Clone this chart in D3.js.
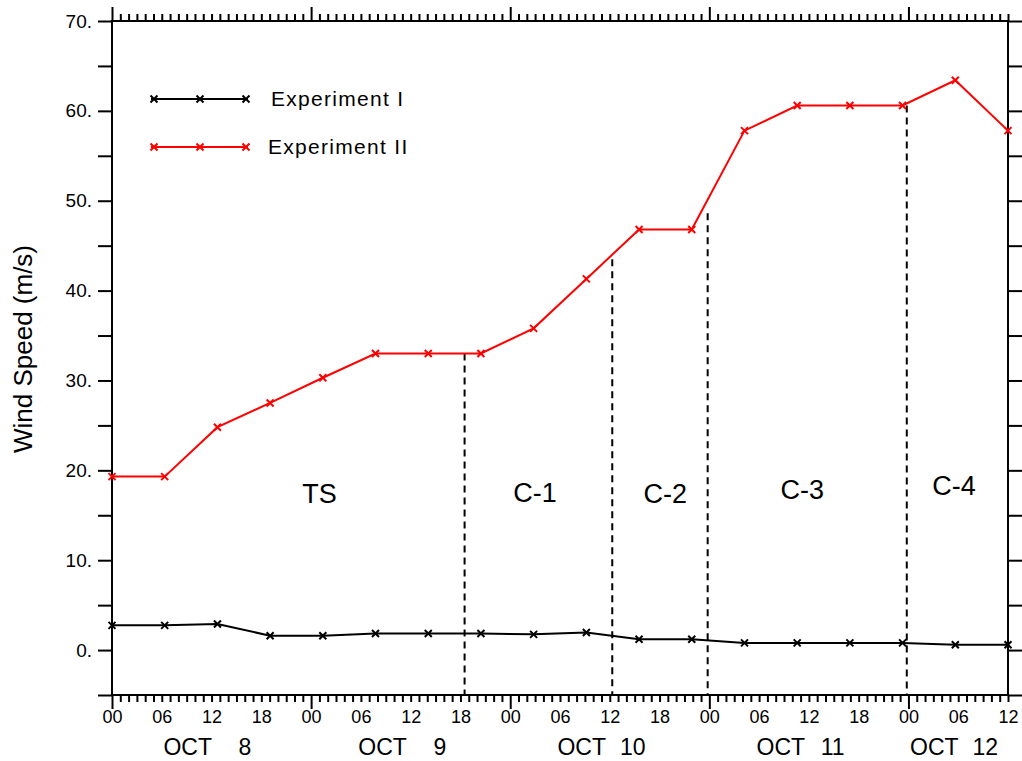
<!DOCTYPE html>
<html>
<head>
<meta charset="utf-8">
<script src="https://cdn.jsdelivr.net/npm/d3@7"></script>
<style>
  body { margin: 0; background: #fff; }
  svg { display: block; }
  text { font-family: "Liberation Sans", Arial, Helvetica, sans-serif; fill: #000; }
</style>
</head>
<body>
<svg width="1022" height="761"></svg>
<script>
// hours since OCT 8 00
var hours = [0, 6.35, 12.71, 19.06, 25.41, 31.76, 38.12, 44.47, 50.82, 57.18, 63.53, 69.88, 76.24, 82.59, 88.94, 95.29, 101.65, 108];
var exp1 = [2.75, 2.75, 2.9, 1.6, 1.6, 1.85, 1.85, 1.85, 1.75, 1.95, 1.2, 1.2, 0.8, 0.8, 0.8, 0.8, 0.6, 0.6];
var exp2 = [19.3, 19.3, 24.8, 27.5, 30.3, 33.0, 33.0, 33.0, 35.8, 41.3, 46.8, 46.8, 57.8, 60.6, 60.6, 60.6, 63.4, 57.8];
var seriesNames = ["Experiment I", "Experiment II"];
var seriesColors = ["#000000", "#ff0000"];

// stage boundaries (dashed) and stage labels
var boundHours = [42.5, 60.3, 71.8, 95.8];
var boundTop = [33.0, 43.5, 48.6, 60.6];
var stageNames = ["TS", "C-1", "C-2", "C-3", "C-4"];
var stageHours = [25.0, 51.0, 66.7, 83.2, 101.5];
var stageVals = [16.4, 16.5, 16.4, 16.8, 17.2];

// date labels
var dayNums = ["8", "9", "10", "11", "12"];
var dayHours = [11.5, 35.0, 59.0, 83.0, 101.5];

var svg = d3.select("svg");
var pLeft = 112, pRight = 1008, pTop = 21, pBottom = 695;

var x = d3.scaleLinear().domain([0, 108]).range([pLeft, pRight]);
var y = d3.scaleLinear().domain([-5, 70]).range([pBottom, pTop]);

var hourTicks = d3.range(0, 109);
var minorHours = hourTicks.filter(function(h){ return h % 24 != 0; });
var dayTicks = hourTicks.filter(function(h){ return h % 24 == 0; });
var yTicks = d3.range(-5, 71, 5);

function styleAxis(g){
  g.select(".domain").remove();
  g.selectAll(".tick line").attr("stroke", "#000").attr("stroke-width", 2);
}

// bottom axis
svg.append("g").attr("transform", "translate(0," + pBottom + ")")
  .call(d3.axisBottom(x).tickValues(minorHours).tickSize(7).tickFormat(""))
  .call(styleAxis);
svg.append("g").attr("transform", "translate(0," + pBottom + ")")
  .call(d3.axisBottom(x).tickValues(dayTicks).tickSize(14).tickFormat(""))
  .call(styleAxis);
var xl = svg.append("g").attr("transform", "translate(0," + pBottom + ")")
  .call(d3.axisBottom(x).tickValues(d3.range(0, 109, 6)).tickSize(0).tickPadding(15)
    .tickFormat(function(h){ return d3.format("02d")(h % 24); }));
xl.select(".domain").remove();
xl.selectAll("text").style("font-size", "18px").attr("fill", "#000");

// top axis
svg.append("g").attr("transform", "translate(0," + pTop + ")")
  .call(d3.axisTop(x).tickValues(minorHours).tickSize(7).tickFormat(""))
  .call(styleAxis);
svg.append("g").attr("transform", "translate(0," + pTop + ")")
  .call(d3.axisTop(x).tickValues(dayTicks).tickSize(14).tickFormat(""))
  .call(styleAxis);

// left axis
var yl = svg.append("g").attr("transform", "translate(" + pLeft + ",0)")
  .call(d3.axisLeft(y).tickValues(yTicks).tickSize(14).tickPadding(6)
    .tickFormat(function(v){ return (v >= 0 && v % 10 == 0) ? v + "." : ""; }))
  .call(styleAxis);
yl.selectAll("text").style("font-size", "19px").attr("fill", "#000");

// right axis
svg.append("g").attr("transform", "translate(" + pRight + ",0)")
  .call(d3.axisRight(y).tickValues(yTicks).tickSize(14).tickFormat(""))
  .call(styleAxis);

// frame
svg.append("rect")
  .attr("x", pLeft).attr("y", pTop)
  .attr("width", pRight - pLeft).attr("height", pBottom - pTop)
  .attr("fill", "none").attr("stroke", "#000").attr("stroke-width", 2);

// date labels
var dl = svg.append("g");
dayNums.forEach(function(d, i){
  var cx = x(dayHours[i]);
  dl.append("text").attr("x", cx - 44).attr("y", 755)
    .style("font-size", "23px").text("OCT");
  dl.append("text").attr("x", cx + 44).attr("y", 755)
    .attr("text-anchor", "end").style("font-size", "23px").text(d);
});

// y title
svg.append("text")
  .attr("transform", "translate(32,349) rotate(-90)")
  .attr("text-anchor", "middle")
  .style("font-size", "26px")
  .text("Wind Speed (m/s)");

// stage boundaries
svg.append("g").selectAll("line").data(boundHours).join("line")
  .attr("x1", function(d){ return x(d); })
  .attr("x2", function(d){ return x(d); })
  .attr("y1", function(d, i){ return y(boundTop[i]); })
  .attr("y2", pBottom)
  .attr("stroke", "#000").attr("stroke-width", 2)
  .attr("stroke-dasharray", "7,5");

svg.append("g").selectAll("text").data(stageNames).join("text")
  .attr("x", function(d, i){ return x(stageHours[i]); })
  .attr("y", function(d, i){ return y(stageVals[i]); })
  .attr("text-anchor", "middle")
  .style("font-size", "27px")
  .text(function(d){ return d; });

// series
var crossPath = "M-3.5,-3.5L3.5,3.5M-3.5,3.5L3.5,-3.5";
var line = d3.line().x(function(d){ return x(d[0]); }).y(function(d){ return y(d[1]); });
[exp1, exp2].forEach(function(vals, s){
  var pts = vals.map(function(v, i){ return [hours[i], v]; });
  var g = svg.append("g");
  g.append("path").datum(pts).attr("d", line)
    .attr("fill", "none").attr("stroke", seriesColors[s]).attr("stroke-width", 2);
  g.selectAll(".mk").data(pts).join("path").attr("class", "mk")
    .attr("transform", function(d){ return "translate(" + x(d[0]) + "," + y(d[1]) + ")"; })
    .attr("d", crossPath)
    .attr("fill", "none").attr("stroke", seriesColors[s]).attr("stroke-width", 2);
});

// legend
var leg = svg.append("g");
seriesNames.forEach(function(name, s){
  var ly = 99 + s * 48;
  leg.append("line").attr("x1", 151).attr("x2", 248).attr("y1", ly).attr("y2", ly)
    .attr("stroke", seriesColors[s]).attr("stroke-width", 2);
  [154, 200, 246].forEach(function(mx){
    leg.append("path").attr("transform", "translate(" + mx + "," + ly + ")")
      .attr("d", crossPath).attr("fill", "none")
      .attr("stroke", seriesColors[s]).attr("stroke-width", 2);
  });
  leg.append("text").attr("x", s == 0 ? 271 : 268).attr("y", ly + 7)
    .style("font-size", "21px").style("letter-spacing", "1.3px")
    .text(name);
});
</script>
</body>
</html>
